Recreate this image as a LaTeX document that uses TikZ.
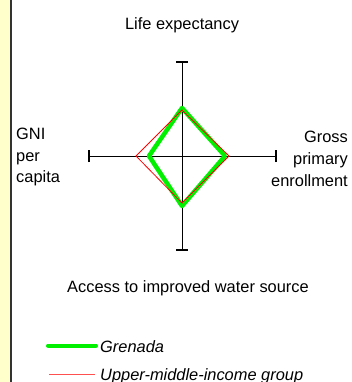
\documentclass[tikz,border=0pt]{standalone}
\usepackage{fontspec}
\setmainfont{Liberation Sans}
\definecolor{stripyellow}{HTML}{FFFFCC}
\definecolor{bordergray}{HTML}{333333}
\definecolor{grenadagreen}{HTML}{00F000}
\definecolor{groupred}{HTML}{FF0000}
\definecolor{legendred}{HTML}{FF5050}
\begin{document}
\begin{tikzpicture}[x=1pt,y=-1pt,
  lbl/.style={inner sep=0pt,font=\fontsize{16.4}{21.7}\selectfont},
  axisline/.style={draw=black,line width=0.9pt},
  tickline/.style={draw=black,line width=1.2pt},
  greenline/.style={draw=grenadagreen,line width=4.5pt,line join=round,line cap=round},
  redline/.style={draw=groupred,line width=0.8pt,line join=miter}]
\useasboundingbox (0,0) rectangle (352,382);
\fill[stripyellow] (0,0) rectangle (10,382);
\fill[bordergray] (10,0) rectangle (12,382);
% axes
\coordinate (c) at (182,156);
\coordinate (top) at (182,62);
\coordinate (bot) at (182,250);
\coordinate (lft) at (89,156);
\coordinate (rgt) at (276,156);
\draw[axisline] (top) -- (bot);
\draw[axisline] (lft) -- (rgt);
\draw[tickline] ([xshift=-6]top) -- ([xshift=6]top);
\draw[tickline] ([xshift=-6]bot) -- ([xshift=6]bot);
\draw[tickline] ([yshift=-6]lft) -- ([yshift=6]lft);
\draw[tickline] ([yshift=-6]rgt) -- ([yshift=6]rgt);
% Grenada
\coordinate (g1) at (182,108);
\coordinate (g2) at (225,156);
\coordinate (g3) at (182,206);
\coordinate (g4) at (149,156);
\draw[greenline] (g1) -- (g2) -- (g3) -- (g4) -- cycle;
% group
\coordinate (r1) at (182,110);
\coordinate (r2) at (229,156);
\coordinate (r3) at (182,203);
\coordinate (r4) at (136,156);
\draw[redline] (r1) -- (r2) -- (r3) -- (r4) -- cycle;
% labels
\node[lbl] (life) at (182,25) {Life expectancy};
\node[lbl] (water) at (188,288) {Access to improved water source};
\node[lbl,anchor=west,align=left] (gni) at (16,157) {GNI\\per\\capita};
\node[lbl,anchor=east,align=right] (gross) at (348,159) {Gross\\primary\\enrollment};
% legend
\coordinate (la) at (48,345.5);
\coordinate (lb) at (96,345.5);
\draw[draw=grenadagreen,line width=4pt,line cap=round] (la) -- (lb);
\node[lbl,anchor=west,font=\fontsize{16.4}{21.7}\selectfont\itshape] (lgren) at (100,347) {Grenada};
\coordinate (lc) at (49,374.5);
\coordinate (ld) at (95,374.5);
\draw[draw=legendred,line width=1pt] (lc) -- (ld);
\node[lbl,anchor=west,font=\fontsize{16.4}{21.7}\selectfont\itshape] (lgrp) at (100,376) {Upper-middle-income group};
\end{tikzpicture}
\end{document}
